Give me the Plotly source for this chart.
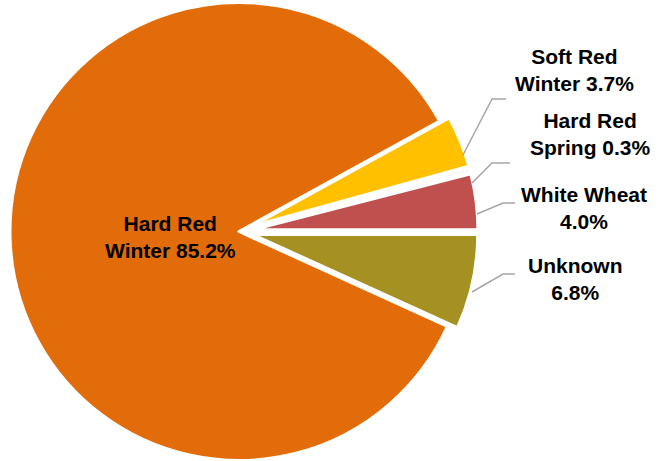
import math
import plotly.graph_objects as go

# Wheat class shares (%), in drawing order (clockwise from 3 o'clock)
categories = ["Unknown", "Hard Red Winter", "Soft Red Winter", "Hard Red Spring", "White Wheat"]
shares = [6.8, 85.2, 3.7, 0.3, 4.0]
colors = ["#A59121", "#E36C0A", "#FFC000", "#F4F4F4", "#C0504D"]
# label text split across two lines
label_heads = ["Unknown<br>", "Hard Red<br>Winter ", "Soft Red<br>Winter ", "Hard Red<br>Spring ", "White Wheat<br>"]
exploded = [True, False, True, True, True]

W, H = 667, 461
CX, CY = 239, 231.5   # pie centre in pixels
R_MAIN = 229          # radius of the large slice
R_SMALL = 225         # radius of the exploded slices
PULL = 14             # explode distance in pixels
ROTATION = 90         # first slice starts at 3 o'clock

# label anchor (pixel) positions and leader-line paths
label_pos = {
    "Hard Red Winter": (170, 237),
    "Soft Red Winter": (574, 70),
    "Hard Red Spring": (590, 134),
    "White Wheat": (584, 208),
    "Unknown": (575, 279),
}
leaders = {
    "Soft Red Winter": [(463, 155), (492, 99), (506, 99)],
    "Hard Red Spring": [(472, 183), (492, 163), (510, 163)],
    "White Wheat": [(477, 214), (503, 203), (515, 203)],
    "Unknown": [(472, 292), (503, 274), (515, 274)],
}

TRANSPARENT = "rgba(0,0,0,0)"
total = sum(shares)


def domain_for(cx, cy, r):
    return dict(
        x=[max(0.0, (cx - r) / W), min(1.0, (cx + r) / W)],
        y=[max(0.0, (H - (cy + r)) / H), min(1.0, (H - (cy - r)) / H)],
    )


fig = go.Figure()
cum = 0.0
for i, (cat, val) in enumerate(zip(categories, shares)):
    ang = val / total * 360.0
    mid = math.radians(ROTATION + cum + ang / 2)   # clockwise from 12 o'clock
    cum += ang
    if exploded[i]:
        cx = CX + PULL * math.sin(mid)
        cy = CY - PULL * math.cos(mid)
        r = R_SMALL
    else:
        cx, cy, r = CX, CY, R_MAIN
    slice_colors = [colors[j] if j == i else TRANSPARENT for j in range(len(shares))]
    line_widths = [3 if j == i else 0 for j in range(len(shares))]
    fig.add_trace(go.Pie(
        labels=categories,
        values=shares,
        sort=False,
        direction="clockwise",
        rotation=ROTATION,
        marker=dict(colors=slice_colors, line=dict(color="white", width=line_widths)),
        textinfo="none",
        hoverinfo="label+percent",
        showlegend=False,
        domain=domain_for(cx, cy, r),
    ))

font = dict(family="Arial, Liberation Sans, sans-serif", size=21, color="black", weight="bold")
for cat, val, head in zip(categories, shares, label_heads):
    px, py = label_pos[cat]
    fig.add_annotation(
        text=f"{head}{val:.1f}%",
        x=px / W, y=1 - py / H, xref="paper", yref="paper",
        xanchor="center", yanchor="middle", align="center",
        showarrow=False, font=font,
    )

for cat, pts in leaders.items():
    path = "M " + " L ".join(f"{x / W},{1 - y / H}" for x, y in pts)
    fig.add_shape(type="path", path=path, xref="paper", yref="paper",
                  line=dict(color="#A6A6A6", width=1.5))

fig.update_layout(
    width=W, height=H,
    margin=dict(l=0, r=0, t=0, b=0),
    paper_bgcolor="white",
    plot_bgcolor="white",
)

fig.write_html("out.html")
